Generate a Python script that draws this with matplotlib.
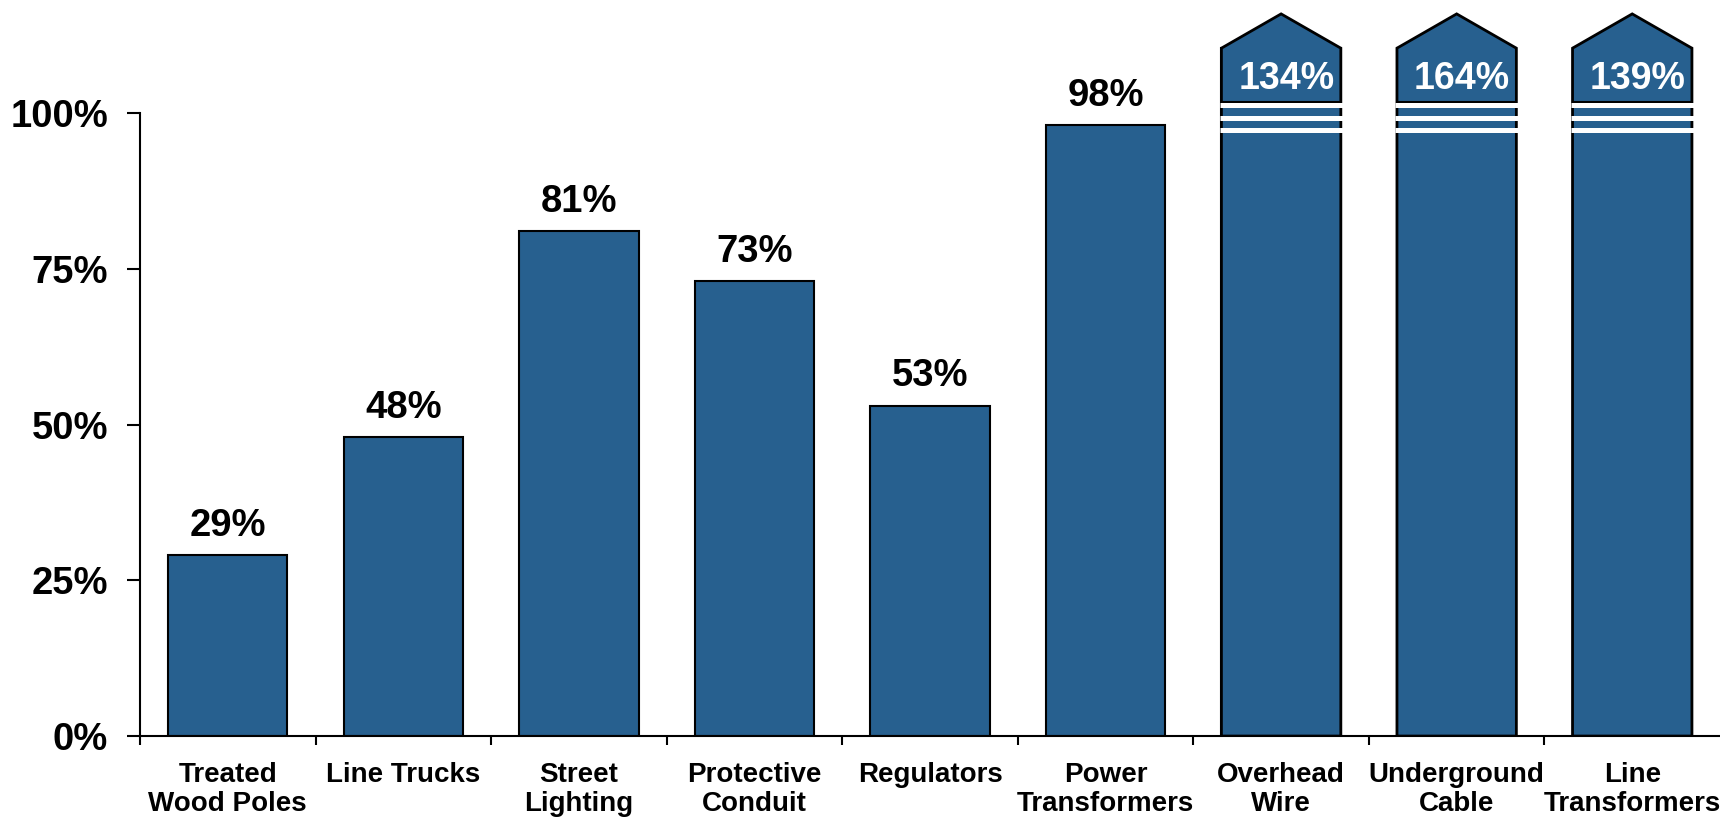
import matplotlib.pyplot as plt
from matplotlib.patches import Polygon

plt.rcParams['font.family'] = ['Liberation Sans', 'DejaVu Sans']
plt.rcParams['font.weight'] = 'bold'

categories = ['Treated\nWood Poles', 'Line Trucks', 'Street\nLighting', 'Protective\nConduit',
              'Regulators', 'Power\nTransformers', 'Overhead\nWire', 'Underground\nCable',
              'Line\nTransformers']
values = [29, 48, 81, 73, 53, 98, 134, 164, 139]
yticks = [0, 25, 50, 75, 100]

bar_color = '#27608F'
# where the broken (off-scale) bars are cut
cap = 110.4
peak = 115.9
gaps = [101.2, 99.2, 97.2]

fig = plt.figure(figsize=(17.2, 8.19), dpi=100)
ax = fig.add_axes([0.0814, 0.1013, 0.9186, 0.8977])

x = list(range(len(categories)))
shown = [min(v, cap) for v in values]
bars = ax.bar(x, shown, width=0.68, color=bar_color, edgecolor='black', linewidth=1.5, zorder=2)

for b, v in zip(bars, values):
    x0 = b.get_x()
    x1 = x0 + b.get_width()
    xc = x0 + b.get_width() / 2
    if v > 100:
        poly = Polygon([(x0, 0), (x0, cap), (xc, peak), (x1, cap), (x1, 0)], closed=True,
                       facecolor=bar_color, edgecolor='black', linewidth=2, zorder=3)
        ax.add_patch(poly)
        ax.hlines(gaps[0] + 0.55, x0, x1, colors='black', linewidth=1.5, zorder=4)
        for g in gaps:
            ax.hlines(g, x0 - 0.01, x1 + 0.01, colors='white', linewidth=3.6, zorder=5)
        ax.text(xc + 0.03, 103.9, f'{v}%', ha='center', va='baseline', color='white',
                fontsize=27, fontweight='bold', zorder=6)
    else:
        ax.annotate(f'{v}%', (xc, v), xytext=(0, 14), textcoords='offset points',
                    ha='center', va='baseline', fontsize=27.5, fontweight='bold')

ax.set_xlim(-0.5, len(categories) - 0.5)
ax.set_ylim(0, 118)
ax.set_yticks(yticks)
ax.set_yticklabels([f'{t}%' for t in yticks])
ax.tick_params(axis='y', length=9.4, width=1.5, pad=13.5, labelsize=27.5, direction='out')

ax.set_xticks(x)
ax.set_xticklabels(categories, fontsize=20, fontweight='bold', linespacing=1.15)
ax.set_xticks([i - 0.5 for i in x], minor=True)
ax.tick_params(axis='x', which='major', length=0, pad=19)
ax.tick_params(axis='x', which='minor', length=6.5, width=1.5, direction='out')

for s in ['top', 'right']:
    ax.spines[s].set_visible(False)
ax.spines['left'].set_bounds(0, 100)
ax.spines['left'].set_linewidth(1.5)
ax.spines['bottom'].set_linewidth(1.5)

fig.savefig('out.png', dpi=100)
